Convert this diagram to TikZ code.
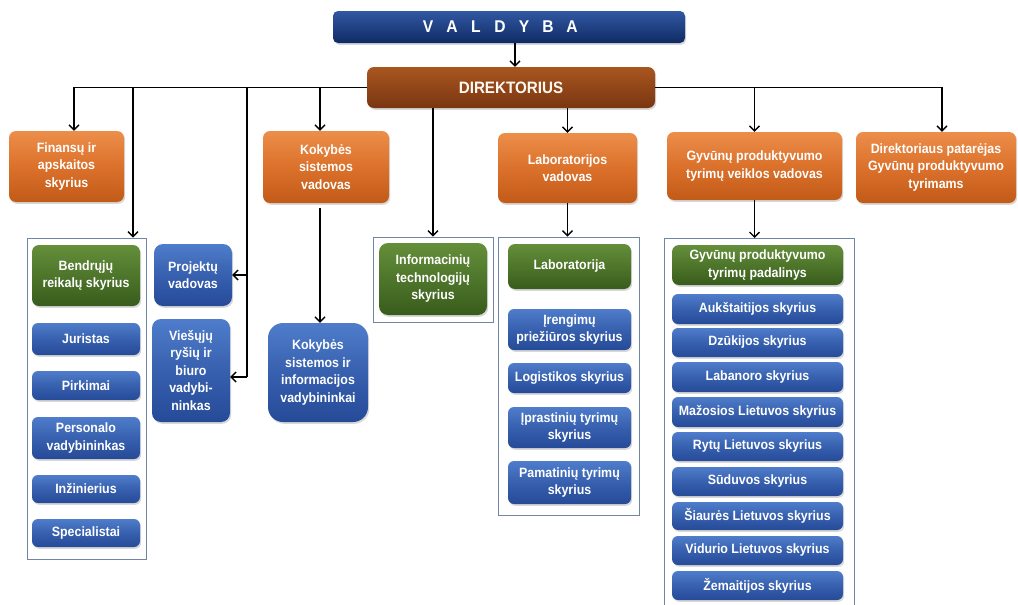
\documentclass[tikz,border=0pt]{standalone}
\usepackage{fontspec}
\setmainfont{Liberation Sans}[FakeStretch=0.92]
\usetikzlibrary{arrows.meta,shadows,calc}
\definecolor{navT}{HTML}{3158A3}
\definecolor{navB}{HTML}{0F2A63}
\definecolor{brT}{HTML}{A8561F}
\definecolor{brB}{HTML}{7A3611}
\definecolor{orT}{HTML}{EC8E4A}
\definecolor{orM}{HTML}{DB712B}
\definecolor{orB}{HTML}{C25A18}
\definecolor{grT}{HTML}{648F3A}
\definecolor{grB}{HTML}{385C1C}
\definecolor{blT}{HTML}{4F7DCB}
\definecolor{blM}{HTML}{3760AE}
\definecolor{blB}{HTML}{254A98}
\definecolor{frame}{HTML}{6F86A6}
\newcommand\vl[1]{\makebox[24pt]{#1}}
\begin{document}
\begin{tikzpicture}[x=1pt,y=-1pt,
  box/.style={rounded corners=7pt, align=center, text=white, inner sep=1pt,
    font=\fontsize{13.5}{17.5}\selectfont\bfseries,
    drop shadow={shadow xshift=1.2pt, shadow yshift=-1.8pt, opacity=0.3}},
  navbox/.style={box, rounded corners=5pt, top color=navT, bottom color=navB},
  brbox/.style={box, top color=brT, bottom color=brB},
  orbox/.style={box, top color=orT, bottom color=orB, middle color=orM},
  grbox/.style={box, top color=grT, bottom color=grB},
  blbox/.style={box, rounded corners=6pt, top color=blT, bottom color=blB, middle color=blM},
  cont/.style={draw=frame, line width=0.9pt, inner sep=0pt},
  ln/.style={line width=1.3pt, draw=black},
  arr/.style={ln, -{Straight Barb[length=5pt,width=10pt]}},
  sz/.style 2 args={minimum width=#1, minimum height=#2}]
\useasboundingbox (0,0) rectangle (1018,605);
\fill[white] (0,0) rectangle (1018,605);

% containers
\node[cont, sz={119pt}{321pt}] (lcont) at (86.5,398.5) {};
\node[cont, sz={120pt}{85pt}] (icont) at (433,279.5) {};
\node[cont, sz={141pt}{278pt}] (labc) at (568.5,376) {};
\coordinate (gtop) at (759,238);
\draw[frame, line width=0.9pt] (664,606) -- (664,238) -- (854,238) -- (854,606);

% top level
\node[navbox, sz={352pt}{32pt}, font=\fontsize{17}{20}\selectfont\bfseries] (valdyba) at (509,27)
  {\vl{V}\vl{A}\vl{L}\vl{D}\vl{Y}\vl{B}\vl{A}\kern18pt};
\node[brbox, sz={288pt}{41pt}, font=\fontsize{16.5}{20}\selectfont\bfseries, text=white!95!orange] (direk) at (511,87.5) {DIREKTORIUS};

% second level
\node[orbox, sz={115pt}{71pt}] (fin) at (66.5,166.5) {Finansų ir\\apskaitos\\skyrius};
\node[orbox, sz={126pt}{72pt}] (kokv) at (326,167) {Kokybės\\sistemos\\vadovas};
\node[orbox, sz={139pt}{70pt}] (labv) at (567.5,168) {Laboratorijos\\vadovas};
\node[orbox, sz={175pt}{68pt}] (gyvv) at (754.5,166) {Gyvūnų produktyvumo\\tyrimų veiklos vadovas};
\node[orbox, sz={160pt}{71pt}] (dirp) at (936,167.5) {Direktoriaus patarėjas\\Gyvūnų produktyvumo\\tyrimams};

% left group
\node[grbox, sz={108pt}{61pt}] (bend) at (86,275.5) {Bendrųjų\\reikalų skyrius};
\node[blbox, sz={108pt}{32pt}] (jur) at (86,339) {Juristas};
\node[blbox, sz={108pt}{29pt}] (pirk) at (86,385.5) {Pirkimai};
\node[blbox, sz={108pt}{42pt}] (pers) at (86,438) {Personalo\\vadybininkas};
\node[blbox, sz={108pt}{28pt}] (inz) at (86,489) {Inžinierius};
\node[blbox, sz={108pt}{28pt}] (spec) at (86,533) {Specialistai};

\node[blbox, rounded corners=9pt, sz={78pt}{62pt}] (proj) at (193,275) {Projektų\\vadovas};
\node[blbox, rounded corners=9pt, sz={78pt}{103pt}] (vies) at (191,370.5) {Viešųjų\\ryšių ir\\biuro\\vadybi-\\ninkas};
\node[blbox, rounded corners=15pt, sz={100pt}{99pt}] (kokvad) at (318,372.5) {Kokybės\\sistemos ir\\informacijos\\vadybininkai};

% info
\node[grbox, rounded corners=9pt, sz={108pt}{72pt}] (info) at (433,279) {Informacinių\\technologijų\\skyrius};

% laboratory group
\node[grbox, sz={123pt}{45pt}] (lab) at (569.5,266.5) {Laboratorija};
\node[blbox, sz={123pt}{41pt}] (ireng) at (569.5,329.5) {Įrengimų\\priežiūros skyrius};
\node[blbox, sz={123pt}{30pt}] (logi) at (569.5,378) {Logistikos skyrius};
\node[blbox, sz={123pt}{41pt}] (ipr) at (569.5,427.5) {Įprastinių tyrimų\\skyrius};
\node[blbox, sz={123pt}{43pt}] (pam) at (569.5,482.5) {Pamatinių tyrimų\\skyrius};

% animal productivity group
\node[grbox, sz={171pt}{40pt}] (gpad) at (757.5,265) {Gyvūnų produktyvumo\\tyrimų padalinys};
\node[blbox, sz={171pt}{30pt}] (a1) at (757.5,309) {Aukštaitijos skyrius};
\node[blbox, sz={171pt}{29pt}] (a2) at (757.5,342.5) {Dzūkijos skyrius};
\node[blbox, sz={171pt}{30pt}] (a3) at (757.5,377) {Labanoro skyrius};
\node[blbox, sz={171pt}{30pt}] (a4) at (757.5,412) {Mažosios Lietuvos skyrius};
\node[blbox, sz={171pt}{29pt}] (a5) at (757.5,446.5) {Rytų Lietuvos skyrius};
\node[blbox, sz={171pt}{29pt}] (a6) at (757.5,481.5) {Sūduvos skyrius};
\node[blbox, sz={171pt}{28pt}] (a7) at (757.5,516) {Šiaurės Lietuvos skyrius};
\node[blbox, sz={171pt}{29pt}] (a8) at (757.5,550.5) {Vidurio Lietuvos skyrius};
\node[blbox, sz={171pt}{29pt}] (a9) at (757.5,585.5) {Žemaitijos skyrius};

% connectors
\draw[arr] ($(valdyba.south)+(6,0)$) -- ($(direk.north)+(4,0)$);
\draw[arr] (direk.west) -| ($(fin.north)+(7.5,0)$);
\draw[arr] (direk.east) -| ($(dirp.north)+(6,0)$);
\coordinate (jA) at (133,87.5);
\draw[arr] (jA) -- (jA |- lcont.north);
\coordinate (jB) at (247,87.5);
\coordinate (jBe) at (247,377);
\draw[ln] (jB) -- (jBe);
\draw[arr] (jB |- proj.east) -- (proj.east);
\draw[arr] (jBe) -- (jBe -| vies.east);
\coordinate (jC) at (320,87.5);
\draw[arr] (jC) -- (jC |- kokv.north);
\draw[arr] ($(jC |- kokv.south)+(0,5)$) -- (jC |- kokvad.north);
\draw[arr] (icont.north |- direk.south) -- (icont.north);
\draw[arr] (labv.north |- direk.south) -- (labv.north);
\draw[arr] (labv.south) -- (labv.south |- labc.north);
\draw[arr] (gyvv.north |- direk.east) -- (gyvv.north);
\draw[arr] (gyvv.south) -- (gyvv.south |- gtop);
\end{tikzpicture}
\end{document}
